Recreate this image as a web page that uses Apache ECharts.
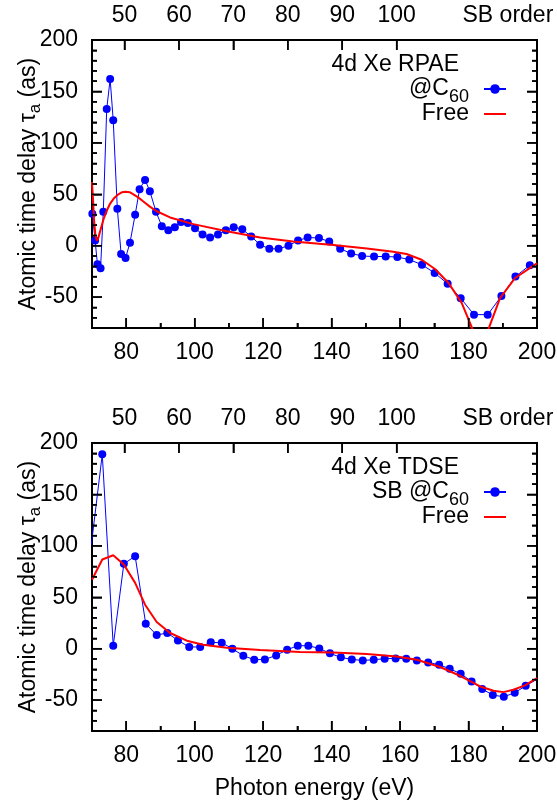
<!DOCTYPE html>
<html>
<head>
<meta charset="utf-8">
<script src="https://cdn.jsdelivr.net/npm/echarts@6/dist/echarts.min.js"></script>
<style>
  html, body { margin: 0; padding: 0; background: #fff; }
  #chart { width: 557px; height: 809px; }
</style>
</head>
<body>
<div id="chart"></div>
<script>
// RPAE panel, Xe@C60 (blue dots)
var rpaeC60E = [70.1, 70.9, 71.6, 72.5, 73.3, 74.3, 75.3, 76.2, 77.4, 78.5, 79.8, 81.1, 82.6, 83.9, 85.5, 86.9, 88.7, 90.4, 92.3, 94.2,
  96.0, 98.0, 100.1, 102.3, 104.5, 106.8, 109.1, 111.4, 113.9, 116.5, 119.1, 121.8, 124.5, 127.4, 130.2, 133.0, 136.3, 139.3, 142.5, 145.7,
  148.9, 152.4, 155.8, 159.2, 162.7, 166.4, 170.1, 173.9, 177.7, 181.6, 185.6, 189.6, 193.7, 197.9];
var rpaeC60T = [31, 5, -18, -22, 33, 133, 162, 122, 36, -8, -12, 3, 30, 55, 64, 53, 33, 19, 15, 18,
  23, 22, 17, 11, 8, 11, 15, 18, 16, 9, 1, -3, -3, 0, 5, 8, 7.5, 4, -3, -7.5,
  -10, -10.5, -10.5, -11, -13.5, -18.5, -26.5, -37, -51, -67, -67, -49, -30, -19];
// RPAE panel, free Xe (red line)
var rpaeFreeE = [70.0, 70.3, 70.6, 71.0, 71.4, 71.8, 72.2, 73.3, 74.3, 75.3, 76.5, 77.7, 78.8, 79.8, 81.0, 82.1, 83.5, 85.0, 86.9, 88.9,
  92.8, 99.6, 109.4, 119.1, 128.8, 140.5, 150.3, 158.0, 161.9, 166.3, 170.2, 174.1, 178.0, 181.4, 185.6, 189.2, 193.6, 199.4, 200.0];
var rpaeFreeT = [62, 45, 25, 10, 5, 7, 12, 25, 34, 41, 46.5, 50, 52, 52.5, 52, 50, 47, 43, 38, 33.5,
  27.5, 21, 14, 8, 4, 0.6, -2.6, -5.8, -8.1, -13.6, -22.6, -36, -55.6, -83, -83, -51, -31.4, -18.4, -17];

// TDSE panel, sidebands Xe@C60 (blue dots)
var tdseC60E = [69.8, 73.0, 76.2, 79.3, 82.6, 85.7, 88.9, 92.0, 95.1, 98.4, 101.6, 104.7, 107.9, 111.0, 114.2, 117.4, 120.5, 123.8, 127.0, 130.1,
  133.2, 136.4, 139.5, 142.7, 145.9, 149.1, 152.3, 155.5, 158.7, 161.8, 164.9, 168.2, 171.4, 174.5, 177.7, 180.9, 184.0, 187.1, 190.3, 193.5,
  196.7, 200.1];
var tdseC60T = [101, 189, 3, 82.5, 90, 24.3, 13.3, 15.3, 8.1, 1.7, 1.7, 6.2, 5.8, 0, -6.8, -10.7, -10.4, -6.5, -1, 2.9,
  2.9, 0.3, -4.5, -8.4, -10.4, -11.4, -10.7, -9.7, -9.4, -9.7, -11.4, -13.3, -15.6, -19.5, -24.3, -31.8, -39.2, -45.1, -46.7, -42.8,
  -36, -29.5];
// TDSE panel, free Xe (red line)
var tdseFreeE = [70.0, 73.0, 76.2, 79.3, 82.6, 85.5, 88.9, 92.8, 97.7, 102.5, 109.4, 119.1, 130.8, 140.5, 150.3, 159.0, 164.9, 171.7, 177.5, 183.4,
  187.3, 190.2, 193.1, 196.5, 200.0];
var tdseFreeT = [67, 86.7, 90.9, 81.8, 64, 42.8, 26, 15.3, 7.8, 3.9, 1, -1.3, -3.2, -3.6, -5.2, -7.5, -10.7, -17.8, -26.3, -36.7,
  -40.9, -42.2, -39.9, -35.7, -28.5];

// axis ticks and labels
var energyMajor = [80, 100, 120, 140, 160, 180, 200];
var energyMinor = [90, 110, 130, 150, 170, 190];
var delayMajor = [-50, 0, 50, 100, 150, 200];
var delayMinor = [-70, -60, -40, -30, -20, -10, 10, 20, 30, 40, 60, 70, 80, 90, 110, 120, 130, 140, 160, 170, 180, 190];
var sbOrders = [50, 60, 70, 80, 90, 100];
var eVperOrder = 1.59;

var panelTitles = ['4d Xe RPAE', '4d Xe TDSE'];
var legendLabels = {
  rpaeC60: '@C{s|60}',
  rpaeFree: '{r|Free}',
  tdseC60: 'SB @C{s|60}',
  tdseFree: '{r|Free}'
};

var FONT = 'Liberation Sans';
var myChart = echarts.init(document.getElementById('chart'));

function pairs(xs, ys) {
  return xs.map(function (x, i) { return [x, ys[i]]; });
}

var xMin = 70, xMax = 200, yMin = -80, yMax = 200;
var sbTickE = sbOrders.map(function (n) { return n * eVperOrder; });

// tick marks: [x, y, dx, dy], placed through the axes' scales, pointing into the frame
var tickItems = [];
energyMajor.forEach(function (e) { tickItems.push([e, yMin, 0, -10]); });
energyMinor.forEach(function (e) { tickItems.push([e, yMin, 0, -5]); });
sbTickE.forEach(function (e) { tickItems.push([e, yMax, 0, 10]); });
delayMajor.forEach(function (d) { tickItems.push([xMin, d, 10, 0]); tickItems.push([xMax, d, -10, 0]); });
delayMinor.forEach(function (d) { tickItems.push([xMin, d, 5, 0]); tickItems.push([xMax, d, -5, 0]); });

var gridTops = [40, 443];

function labelStyle() {
  return { fontSize: 23, color: '#000', fontFamily: FONT };
}
function tick(values, len) {
  return { show: true, inside: true, length: len, customValues: values, lineStyle: { color: '#000', width: 1.5 } };
}
function hiddenAxis(gi, dim, pos, min, max, values, len) {
  return {
    type: 'value', gridIndex: gi, position: pos, min: min, max: max,
    axisLine: { show: false, onZero: false }, splitLine: { show: false },
    axisLabel: { show: false }, axisTick: tick(values, len)
  };
}

var grids = [], xAxes = [], yAxes = [], titles = [], legends = [];
gridTops.forEach(function (top, gi) {
  grids.push({
    left: 92, top: top, width: 445, height: 288, outerBoundsMode: 'none',
    show: true, borderColor: '#000', borderWidth: 2, backgroundColor: 'transparent'
  });

  // x bottom: photon energy (carries the data)
  xAxes.push({
    type: 'value', gridIndex: gi, position: 'bottom', min: xMin, max: xMax,
    axisLine: { show: false, onZero: false }, splitLine: { show: false },
    axisTick: tick(energyMajor, 10),
    axisLabel: Object.assign({ customValues: energyMajor, margin: 13 }, labelStyle()),
    name: gi === 1 ? 'Photon energy (eV)' : '', nameLocation: 'middle', nameGap: 46, nameMoveOverlap: false,
    nameTextStyle: labelStyle()
  });
  // x top: sideband order
  xAxes.push({
    type: 'value', gridIndex: gi, position: 'top', min: xMin, max: xMax,
    axisLine: { show: false, onZero: false }, splitLine: { show: false },
    axisTick: tick(sbTickE, 10),
    axisLabel: Object.assign({
      customValues: sbTickE.concat([191.5]), margin: 13,
      formatter: function (v) { return v > 170 ? 'SB order' : String(Math.round(v / eVperOrder)); }
    }, labelStyle())
  });
  // x bottom minor ticks
  xAxes.push(hiddenAxis(gi, 'x', 'bottom', xMin, xMax, energyMinor, 5));

  // y left: delay (carries the data)
  yAxes.push({
    type: 'value', gridIndex: gi, position: 'left', min: yMin, max: yMax,
    axisLine: { show: false, onZero: false }, splitLine: { show: false },
    axisTick: tick(delayMajor, 10),
    axisLabel: Object.assign({ customValues: delayMajor, margin: 14 }, labelStyle()),
    name: 'Atomic time delay τ{s|a} (as)', nameLocation: 'middle', nameGap: 50, nameRotate: 90, nameMoveOverlap: false,
    nameTextStyle: {
      fontSize: 23, color: '#000', fontFamily: FONT, lineHeight: 26,
      rich: { s: { fontSize: 17, lineHeight: 17, padding: [12, 0, 0, 0], fontFamily: FONT, color: '#000' } }
    }
  });
  yAxes.push(hiddenAxis(gi, 'y', 'left', yMin, yMax, delayMinor, 5));
  yAxes.push(hiddenAxis(gi, 'y', 'right', yMin, yMax, delayMajor, 10));
  yAxes.push(hiddenAxis(gi, 'y', 'right', yMin, yMax, delayMinor, 5));

  titles.push({
    text: panelTitles[gi], right: 98, top: top + 12, padding: 0,
    textStyle: { fontSize: 23, fontWeight: 'normal', color: '#000', fontFamily: FONT, lineHeight: 26 }
  });

  var names = gi === 0 ? ['rpaeC60', 'rpaeFree'] : ['tdseC60', 'tdseFree'];
  legends.push({
    orient: 'vertical', align: 'right', right: 50, top: top + 32, padding: 0,
    itemWidth: 22, itemHeight: 12, itemGap: -5,
    data: [{ name: names[0] }, { name: names[1], itemStyle: { opacity: 0 } }],
    formatter: function (name) { return legendLabels[name]; },
    textStyle: {
      fontSize: 23, color: '#000', fontFamily: FONT, lineHeight: 26,
      rich: {
        s: { fontSize: 18, lineHeight: 18, padding: [16, 10, 0, 0], fontFamily: FONT, color: '#000' },
        r: { fontSize: 23, lineHeight: 26, padding: [0, 10, 0, 0], fontFamily: FONT, color: '#000' }
      }
    }
  });
});

function dots(name, gi, xs, ys) {
  return {
    name: name, type: 'line', xAxisIndex: gi * 3, yAxisIndex: gi * 4, data: pairs(xs, ys),
    symbol: 'circle', symbolSize: 8, clip: true,
    itemStyle: { color: '#0000ff' }, lineStyle: { color: '#0000ff', width: 1 }, z: 2
  };
}
function curve(name, gi, xs, ys) {
  return {
    name: name, type: 'line', xAxisIndex: gi * 3, yAxisIndex: gi * 4, data: pairs(xs, ys),
    symbol: 'none', clip: true,
    itemStyle: { color: '#ff0000' }, lineStyle: { color: '#ff0000', width: 2 }, z: 3
  };
}
// same ticks drawn once more as a custom series, in case the axis ticks are not painted
function ticks(gi) {
  return {
    type: 'custom', xAxisIndex: gi * 3, yAxisIndex: gi * 4, data: tickItems,
    clip: false, z: 4, encode: { x: 0, y: 1 },
    renderItem: function (params, api) {
      var p = api.coord([api.value(0), api.value(1)]);
      return {
        type: 'line',
        shape: { x1: p[0], y1: p[1], x2: p[0] + api.value(2), y2: p[1] + api.value(3) },
        style: { stroke: '#000', lineWidth: 1.5 }
      };
    }
  };
}

var option = {
  animation: false,
  title: titles,
  legend: legends,
  grid: grids,
  xAxis: xAxes,
  yAxis: yAxes,
  series: [
    dots('rpaeC60', 0, rpaeC60E, rpaeC60T),
    curve('rpaeFree', 0, rpaeFreeE, rpaeFreeT),
    dots('tdseC60', 1, tdseC60E, tdseC60T),
    curve('tdseFree', 1, tdseFreeE, tdseFreeT),
    ticks(0),
    ticks(1)
  ]
};

myChart.setOption(option);
</script>
</body>
</html>
